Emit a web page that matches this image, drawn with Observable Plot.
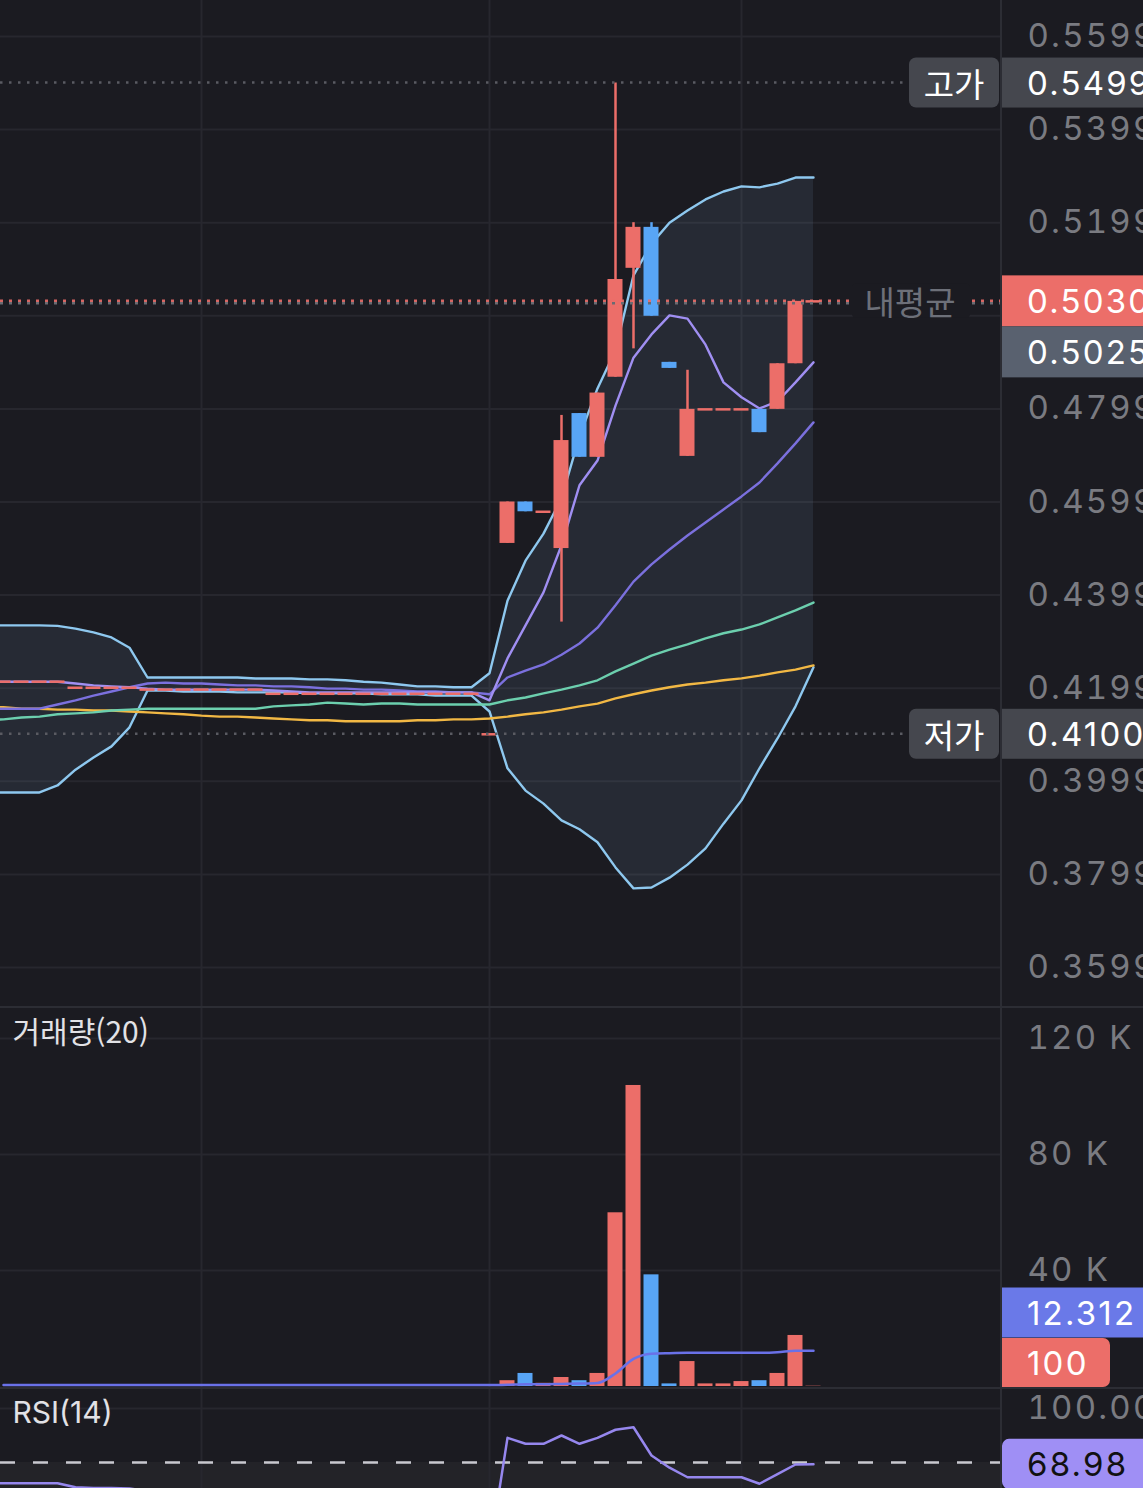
<!DOCTYPE html>
<html lang="ko">
<head>
<meta charset="utf-8">
<script src="https://cdn.jsdelivr.net/npm/d3@7"></script>
<script src="https://cdn.jsdelivr.net/npm/@observablehq/plot@0.6"></script>
<style>
html,body{margin:0;padding:0;background:#1b1b21;}
#wrap{position:relative;width:1143px;height:1488px;overflow:hidden;background:#1b1b21;}
#wrap > .panel{position:absolute;left:0;}
#wrap svg{display:block;}
.sep{position:absolute;background:#2c2d34;}
</style>
</head>
<body>
<div id="wrap">
  <div class="panel" id="price" style="top:0"></div>
  <div class="panel" id="volume" style="top:1008px"></div>
  <div class="panel" id="rsi" style="top:1388px"></div>
  <div class="sep" style="left:0;top:1006px;width:1143px;height:2px"></div>
  <div class="sep" style="left:0;top:1387px;width:1143px;height:2px"></div>
  <div class="sep" style="left:1000px;top:0;width:1.5px;height:1488px"></div>
</div>
<script>
// ---------------- DATA ----------------
// candle index 0..45 (left to right); line series start one step earlier (-1..45)
const timeTicks = [11, 27, 41];
const priceTicks = [0.3599, 0.3799, 0.3999, 0.4199, 0.4399, 0.4599, 0.4799, 0.4999, 0.5199, 0.5399, 0.5599];
const priceTickLabels = [0.3599, 0.3799, 0.3999, 0.4199, 0.4399, 0.4599, 0.4799, 0.5199, 0.5399, 0.5599]; // 0.4999 sits under the price boxes
const volumeTicks = [40000, 80000, 120000];
const rsiTicks = [100];

const open = [
  0.4213, 0.4213, 0.4213, 0.4213,
  0.4200, 0.4200, 0.4200, 0.4200,
  0.4196, 0.4196, 0.4196, 0.4196, 0.4196, 0.4196, 0.4196,
  0.4187, 0.4187, 0.4187, 0.4187, 0.4187, 0.4187, 0.4187, 0.4187, 0.4187, 0.4187, 0.4187, 0.4187,
  0.4100,
  0.4510, 0.4599, 0.4578, 0.4499, 0.4789, 0.4695, 0.4867, 0.5101, 0.5189,
  0.4899, 0.4697, 0.4798, 0.4798, 0.4798, 0.4798, 0.4798, 0.4896, 0.5030
];
const close = [
  0.4213, 0.4213, 0.4213, 0.4213,
  0.4200, 0.4200, 0.4200, 0.4200,
  0.4196, 0.4196, 0.4196, 0.4196, 0.4196, 0.4196, 0.4196,
  0.4187, 0.4187, 0.4187, 0.4187, 0.4187, 0.4187, 0.4187, 0.4187, 0.4187, 0.4187, 0.4187, 0.4187,
  0.4100,
  0.4599, 0.4578, 0.4578, 0.4731, 0.4695, 0.4833, 0.5077, 0.5189, 0.4998,
  0.4886, 0.4798, 0.4798, 0.4798, 0.4798, 0.4748, 0.4896, 0.5030, 0.5030
];
const high = [
  0.4213, 0.4213, 0.4213, 0.4213,
  0.4200, 0.4200, 0.4200, 0.4200,
  0.4196, 0.4196, 0.4196, 0.4196, 0.4196, 0.4196, 0.4196,
  0.4187, 0.4187, 0.4187, 0.4187, 0.4187, 0.4187, 0.4187, 0.4187, 0.4187, 0.4187, 0.4187, 0.4187,
  0.4100,
  0.4599, 0.4599, 0.4578, 0.4785, 0.4789, 0.4833, 0.5499, 0.5199, 0.5199,
  0.4899, 0.4882, 0.4798, 0.4798, 0.4798, 0.4798, 0.4896, 0.5030, 0.5030
];
const low = [
  0.4213, 0.4213, 0.4213, 0.4213,
  0.4200, 0.4200, 0.4200, 0.4200,
  0.4196, 0.4196, 0.4196, 0.4196, 0.4196, 0.4196, 0.4196,
  0.4187, 0.4187, 0.4187, 0.4187, 0.4187, 0.4187, 0.4187, 0.4187, 0.4187, 0.4187, 0.4187, 0.4187,
  0.4100,
  0.4510, 0.4578, 0.4578, 0.4341, 0.4695, 0.4695, 0.4867, 0.4928, 0.4998,
  0.4886, 0.4697, 0.4798, 0.4798, 0.4798, 0.4748, 0.4798, 0.4896, 0.5030
];
const volume = [
  0, 0, 0, 0, 0, 0, 0, 0, 0, 0, 0, 0, 0, 0,
  0, 0, 0, 0, 0, 0, 0, 0, 0, 0, 0, 0, 0, 0,
  2000, 4500, 1100, 3100, 2000, 4500, 59900, 103800, 38500,
  900, 8600, 900, 900, 1700, 2000, 4500, 17600, 100
];
const volumeMA = [
  500, 500, 500, 500, 500, 500, 500, 500, 500, 500, 500, 500, 500, 500,
  500, 500, 500, 500, 500, 500, 500, 500, 500, 500, 500, 500, 500, 500,
  600, 800, 800, 900, 1000, 1200, 4500, 9500, 11300,
  11500, 11600, 11600, 11600, 11600, 11600, 11800, 12300, 12312
];

// line series, index -1..45
const bbUpper = [
  0.4334, 0.4334, 0.4334, 0.4334, 0.4333, 0.4327, 0.4319, 0.4308, 0.4286,
  0.4222, 0.4222, 0.4222, 0.4222, 0.4222, 0.4222,
  0.4220, 0.4220, 0.4220, 0.4218, 0.4218, 0.4216, 0.4213, 0.4211, 0.4207, 0.4203, 0.4203, 0.4201, 0.4201,
  0.4231,
  0.4387, 0.4473, 0.4531, 0.4607, 0.4740, 0.4843, 0.4925, 0.5086, 0.5154,
  0.5199, 0.5225, 0.5249, 0.5266, 0.5277, 0.5275, 0.5283, 0.5296, 0.5296
];
const bbLower = [
  0.3975, 0.3975, 0.3975, 0.3975, 0.3990, 0.4024, 0.4050, 0.4074, 0.4115,
  0.4194, 0.4194, 0.4192, 0.4192, 0.4192, 0.4190,
  0.4190, 0.4190, 0.4190, 0.4188, 0.4188, 0.4188, 0.4188, 0.4186, 0.4186, 0.4186, 0.4183, 0.4183, 0.4183,
  0.4149,
  0.4027, 0.3979, 0.3951, 0.3915, 0.3896, 0.3868, 0.3814, 0.3769, 0.3771,
  0.3792, 0.3820, 0.3855, 0.3908, 0.3958, 0.4027, 0.4091, 0.4160, 0.4244
];
const bbMiddle = [
  0.4155, 0.4155, 0.4155, 0.4155, 0.4164, 0.4173, 0.4183, 0.4192, 0.4201,
  0.4209, 0.4211, 0.4209, 0.4209, 0.4207, 0.4205,
  0.4205, 0.4203, 0.4203, 0.4201, 0.4198, 0.4198, 0.4196, 0.4196, 0.4194, 0.4192, 0.4192, 0.4190, 0.4190,
  0.4186,
  0.4222, 0.4237, 0.4250, 0.4271, 0.4295, 0.4329, 0.4377, 0.4428, 0.4465,
  0.4497, 0.4527, 0.4555, 0.4583, 0.4611, 0.4641, 0.4682, 0.4725, 0.4770
];
const ma5 = [
  0.4213, 0.4213, 0.4213, 0.4213, 0.4213, 0.4209, 0.4205, 0.4203, 0.4201,
  0.4198, 0.4196, 0.4196, 0.4196, 0.4196, 0.4196,
  0.4196, 0.4194, 0.4192, 0.4190, 0.4190, 0.4190, 0.4190, 0.4190, 0.4190, 0.4190, 0.4190, 0.4190, 0.4190,
  0.4173,
  0.4263, 0.4334, 0.4405, 0.4506, 0.4635, 0.4688, 0.4806, 0.4909, 0.4959,
  0.5000, 0.4993, 0.4937, 0.4856, 0.4824, 0.4800, 0.4815, 0.4856, 0.4899
];
const ma60 = [
  0.4130, 0.4132, 0.4136, 0.4138, 0.4143, 0.4145, 0.4147, 0.4151, 0.4153,
  0.4155, 0.4155, 0.4155, 0.4155, 0.4155, 0.4155,
  0.4155, 0.4160, 0.4162, 0.4164, 0.4168, 0.4166, 0.4164, 0.4166, 0.4166, 0.4164, 0.4164, 0.4164, 0.4164,
  0.4164,
  0.4173, 0.4179, 0.4188, 0.4196, 0.4205, 0.4216, 0.4235, 0.4252, 0.4269,
  0.4282, 0.4293, 0.4306, 0.4317, 0.4325, 0.4336, 0.4351, 0.4366, 0.4383
];
const ma120 = [
  0.4158, 0.4158, 0.4155, 0.4155, 0.4153, 0.4153, 0.4151, 0.4151, 0.4149,
  0.4147, 0.4145, 0.4143, 0.4140, 0.4138, 0.4138,
  0.4136, 0.4134, 0.4132, 0.4130, 0.4130, 0.4128, 0.4128, 0.4128, 0.4128, 0.4130, 0.4130, 0.4132, 0.4132,
  0.4134,
  0.4138, 0.4143, 0.4147, 0.4153, 0.4160, 0.4166, 0.4177, 0.4186, 0.4194,
  0.4201, 0.4207, 0.4211, 0.4216, 0.4220, 0.4226, 0.4233, 0.4239, 0.4248
];
const rsi = [
  58.5, 58.5, 58.5, 58.5, 58.5, 56.2, 55.9, 55.8, 55.6,
  54.0, 52.0, 50.5, 49.0, 48.0, 47.5,
  46.0, 45.0, 44.5, 44.0, 43.0, 42.5, 42.0, 41.0, 40.5, 40.0, 39.0, 38.5, 38.0,
  20.0,
  83.7, 80.4, 80.4, 85.0, 80.4, 83.7, 88.2, 89.6, 73.9,
  67.1, 61.8, 61.8, 61.8, 61.8, 58.2, 63.5, 68.9, 68.98
];

const highPrice = 0.5499, lowPrice = 0.4100, currentPrice = 0.5030, avgPrice = 0.5025;
const levelNames = {high: "고가", low: "저가", avg: "내평균"};
const rsiLevels = {lo: 30, hi: 70};
const titles = {volume: "거래량(20)", rsi: "RSI(14)"};

// ---------------- STYLE ----------------
const RED = "#ec6e69", BLUE = "#58a5f6", GRID = "#27272e", AXIS = "#7a7b81";
const FONT = "Inter, 'Noto Sans CJK KR', 'Noto Sans', sans-serif";
const KFONT = "'Noto Sans CJK KR', Inter, sans-serif";
const LS = "2.2px";
const HALF = 0.4167;

const candles = open.map((o, i) => ({
  i, o, c: close[i], h: high[i], l: low[i], v: volume[i], vma: volumeMA[i],
  color: close[i] >= o ? RED : BLUE
}));
const lines = bbUpper.map((u, k) => ({
  i: k - 1, up: u, lo: bbLower[k], mid: bbMiddle[k], ma5: ma5[k], ma60: ma60[k], ma120: ma120[k], rsi: rsi[k]
}));

const common = {
  width: 1143, marginLeft: 0, marginRight: 142, marginTop: 0, marginBottom: 0,
  x: {domain: [-1 / 6, 998 / 18], axis: null},
  color: {type: "identity"},
  style: {background: "transparent", fontFamily: FONT, color: AXIS, overflow: "visible"}
};
const lineOpt = {x: "i", strokeWidth: 2.4, clip: true};

// ---------------- PRICE PANEL ----------------
const pricePlot = Plot.plot({
  ...common,
  height: 1008,
  y: {domain: [0.351093, 0.567634], axis: null},
  marks: [
    Plot.ruleY(priceTicks, {stroke: GRID, strokeWidth: 2}),
    Plot.ruleX(timeTicks, {stroke: GRID, strokeWidth: 2}),
    Plot.areaY(lines, {x: "i", y1: "lo", y2: "up", fill: "#9cc8f0", fillOpacity: 0.09, clip: true}),
    Plot.line(lines, {...lineOpt, y: "up", stroke: "#8ec8ef"}),
    Plot.line(lines, {...lineOpt, y: "lo", stroke: "#8ec8ef"}),
    Plot.line(lines, {...lineOpt, y: "ma120", stroke: "#f2b844"}),
    Plot.line(lines, {...lineOpt, y: "ma60", stroke: "#6ccfae"}),
    Plot.line(lines, {...lineOpt, y: "mid", stroke: "#7b70de"}),
    Plot.line(lines, {...lineOpt, y: "ma5", stroke: "#a08ff2"}),
    Plot.ruleX(candles.filter(d => d.h > d.l), {x: "i", y1: "l", y2: "h", stroke: "color", strokeWidth: 2.5}),
    Plot.rect(candles.filter(d => d.o !== d.c), {
      x1: d => d.i - HALF, x2: d => d.i + HALF,
      y1: d => Math.min(d.o, d.c), y2: d => Math.max(d.o, d.c), fill: "color"
    }),
    Plot.ruleY(candles.filter(d => d.o === d.c), {
      x1: d => d.i - HALF, x2: d => d.i + HALF, y: "c", stroke: "color", strokeWidth: 2.5
    }),
    Plot.axisY(priceTickLabels, {anchor: "right", tickSize: 0, tickPadding: 26, fontSize: 33, label: null,
      tickFormat: d => d.toFixed(4)})
  ]
});
document.getElementById("price").appendChild(pricePlot);

// ---------------- VOLUME PANEL ----------------
const volumePlot = Plot.plot({
  ...common,
  height: 380,
  y: {domain: [-690, 130345], axis: null},
  marks: [
    Plot.ruleY(volumeTicks, {stroke: GRID, strokeWidth: 2}),
    Plot.ruleX(timeTicks, {stroke: GRID, strokeWidth: 2}),
    Plot.rect(candles.filter(d => d.v > 0), {
      x1: d => d.i - HALF, x2: d => d.i + HALF, y1: d => 0, y2: "v", fill: "color"
    }),
    Plot.line(candles, {x: "i", y: "vma", stroke: "#6a71e8", strokeWidth: 2.5, curve: "monotone-x"}),
    Plot.axisY(volumeTicks, {anchor: "right", tickSize: 0, tickPadding: 26, fontSize: 33, label: null,
      tickFormat: d => `${d / 1000} K`}),
    Plot.text([titles.volume], {frameAnchor: "top-left", lineAnchor: "middle", dx: 12, dy: 25, fontSize: 30,
      fill: "#e2e2e6", textAnchor: "start", fontFamily: KFONT})
  ]
});
document.getElementById("volume").appendChild(volumePlot);

// ---------------- RSI PANEL ----------------
const rsiPlot = Plot.plot({
  ...common,
  height: 100,
  y: {domain: [55.556, 111.111], axis: null},
  marks: [
    Plot.rect([rsiLevels], {x1: () => -1 / 6, x2: () => 998 / 18, y1: "lo", y2: "hi", fill: "#ffffff", fillOpacity: 0.035, clip: true}),
    Plot.ruleY(rsiTicks, {stroke: GRID, strokeWidth: 2}),
    Plot.ruleX(timeTicks, {stroke: GRID, strokeWidth: 2}),
    Plot.ruleY([rsiLevels.hi], {stroke: "#c9c9cf", strokeWidth: 2.5, strokeDasharray: "15,18"}),
    Plot.line(lines, {x: "i", y: "rsi", stroke: "#9687ee", strokeWidth: 2.5, clip: true}),
    Plot.axisY(rsiTicks, {anchor: "right", tickSize: 0, tickPadding: 26, fontSize: 33, label: null,
      tickFormat: d => d.toFixed(2)}),
    Plot.text([titles.rsi], {frameAnchor: "top-left", lineAnchor: "middle", dx: 12, dy: 25, fontSize: 30,
      fill: "#e2e2e6", textAnchor: "start", fontFamily: FONT})
  ]
});
document.getElementById("rsi").appendChild(rsiPlot);

// ---------------- OVERLAYS (labels placed through the plots' own y scales) ----------------
function yOf(plot) {
  const s = plot.scale("y");
  return s.apply ? (v => s.apply(v)) : d3.scaleLinear(s.domain, s.range);
}
function spacing(plot) {
  d3.select(plot).selectAll('g[aria-label="y-axis tick label"] text').style("letter-spacing", LS);
}
[pricePlot, volumePlot, rsiPlot].forEach(spacing);

function box(g, x, yc, w, h, fill, rx = 0) {
  g.append("rect").attr("x", x).attr("y", yc - h / 2).attr("width", w).attr("height", h)
    .attr("rx", rx).attr("fill", fill);
}
function label(g, x, yc, text, fill, opts = {}) {
  g.append("text").attr("x", x).attr("y", yc).attr("dominant-baseline", "central")
    .attr("text-anchor", opts.anchor || "start").attr("fill", fill)
    .attr("font-size", opts.size || 33).attr("font-family", opts.font || FONT)
    .style("letter-spacing", opts.ls == null ? LS : opts.ls).text(text);
}

// price overlays
{
  const y = yOf(pricePlot);
  const g = d3.select(pricePlot).append("g");
  for (const p of [highPrice, lowPrice]) {
    g.append("line").attr("x1", 0).attr("x2", 905).attr("y1", y(p)).attr("y2", y(p))
      .attr("stroke", "#5a5b62").attr("stroke-width", 2.5).attr("stroke-dasharray", "2.5,6.5");
  }
  g.append("line").attr("x1", 0).attr("x2", 1000).attr("y1", y(avgPrice)).attr("y2", y(avgPrice))
    .attr("stroke", "#6a6b72").attr("stroke-width", 2.5).attr("stroke-dasharray", "3,6");
  g.append("line").attr("x1", 0).attr("x2", 1000).attr("y1", y(currentPrice)).attr("y2", y(currentPrice))
    .attr("stroke", RED).attr("stroke-width", 2.5).attr("stroke-dasharray", "3,6").attr("stroke-opacity", 0.9);
  box(g, 852, y(currentPrice), 118, 34, "#1b1b21", 4);
  label(g, 910, y(currentPrice), levelNames.avg, "#6d7079", {anchor: "middle", font: KFONT, ls: "0px"});
  for (const [name, p] of [[levelNames.high, highPrice], [levelNames.low, lowPrice]]) {
    box(g, 909, y(p), 90, 50, "#45474e", 7);
    label(g, 954, y(p), name, "#ffffff", {anchor: "middle", font: KFONT, ls: "0px"});
    box(g, 1002, y(p), 160, 50, "#45474e");
    label(g, 1027, y(p), p.toFixed(4), "#ffffff");
  }
  const cy = y(currentPrice);
  const ay = Math.max(y(avgPrice), cy + 51);
  box(g, 1002, cy, 160, 51, RED);
  label(g, 1027, cy, currentPrice.toFixed(4), "#ffffff");
  box(g, 1002, ay, 160, 51, "#59616f");
  label(g, 1027, ay, avgPrice.toFixed(4), "#ffffff");
}

// volume overlays
{
  const y = yOf(volumePlot);
  const g = d3.select(volumePlot).append("g");
  const last = candles[candles.length - 1];
  const ry = Math.min(y(last.v), 380 - 25.5);
  const my = Math.min(y(last.vma), ry - 50);
  box(g, 1002, my, 160, 50, "#6a79e8");
  label(g, 1027, my, last.vma.toLocaleString("de-DE"), "#ffffff");
  box(g, 1002, ry, 108, 49, RED, 7);
  box(g, 1002, ry, 20, 49, RED);
  label(g, 1027, ry, String(last.v), "#ffffff");
}

// rsi overlays
{
  const y = yOf(rsiPlot);
  const g = d3.select(rsiPlot).append("g");
  const v = rsi[rsi.length - 1];
  box(g, 1002, y(v), 160, 50, "#9f8ff5", 7);
  label(g, 1027, y(v), v.toFixed(2), "#111111");
}
</script>
</body>
</html>
